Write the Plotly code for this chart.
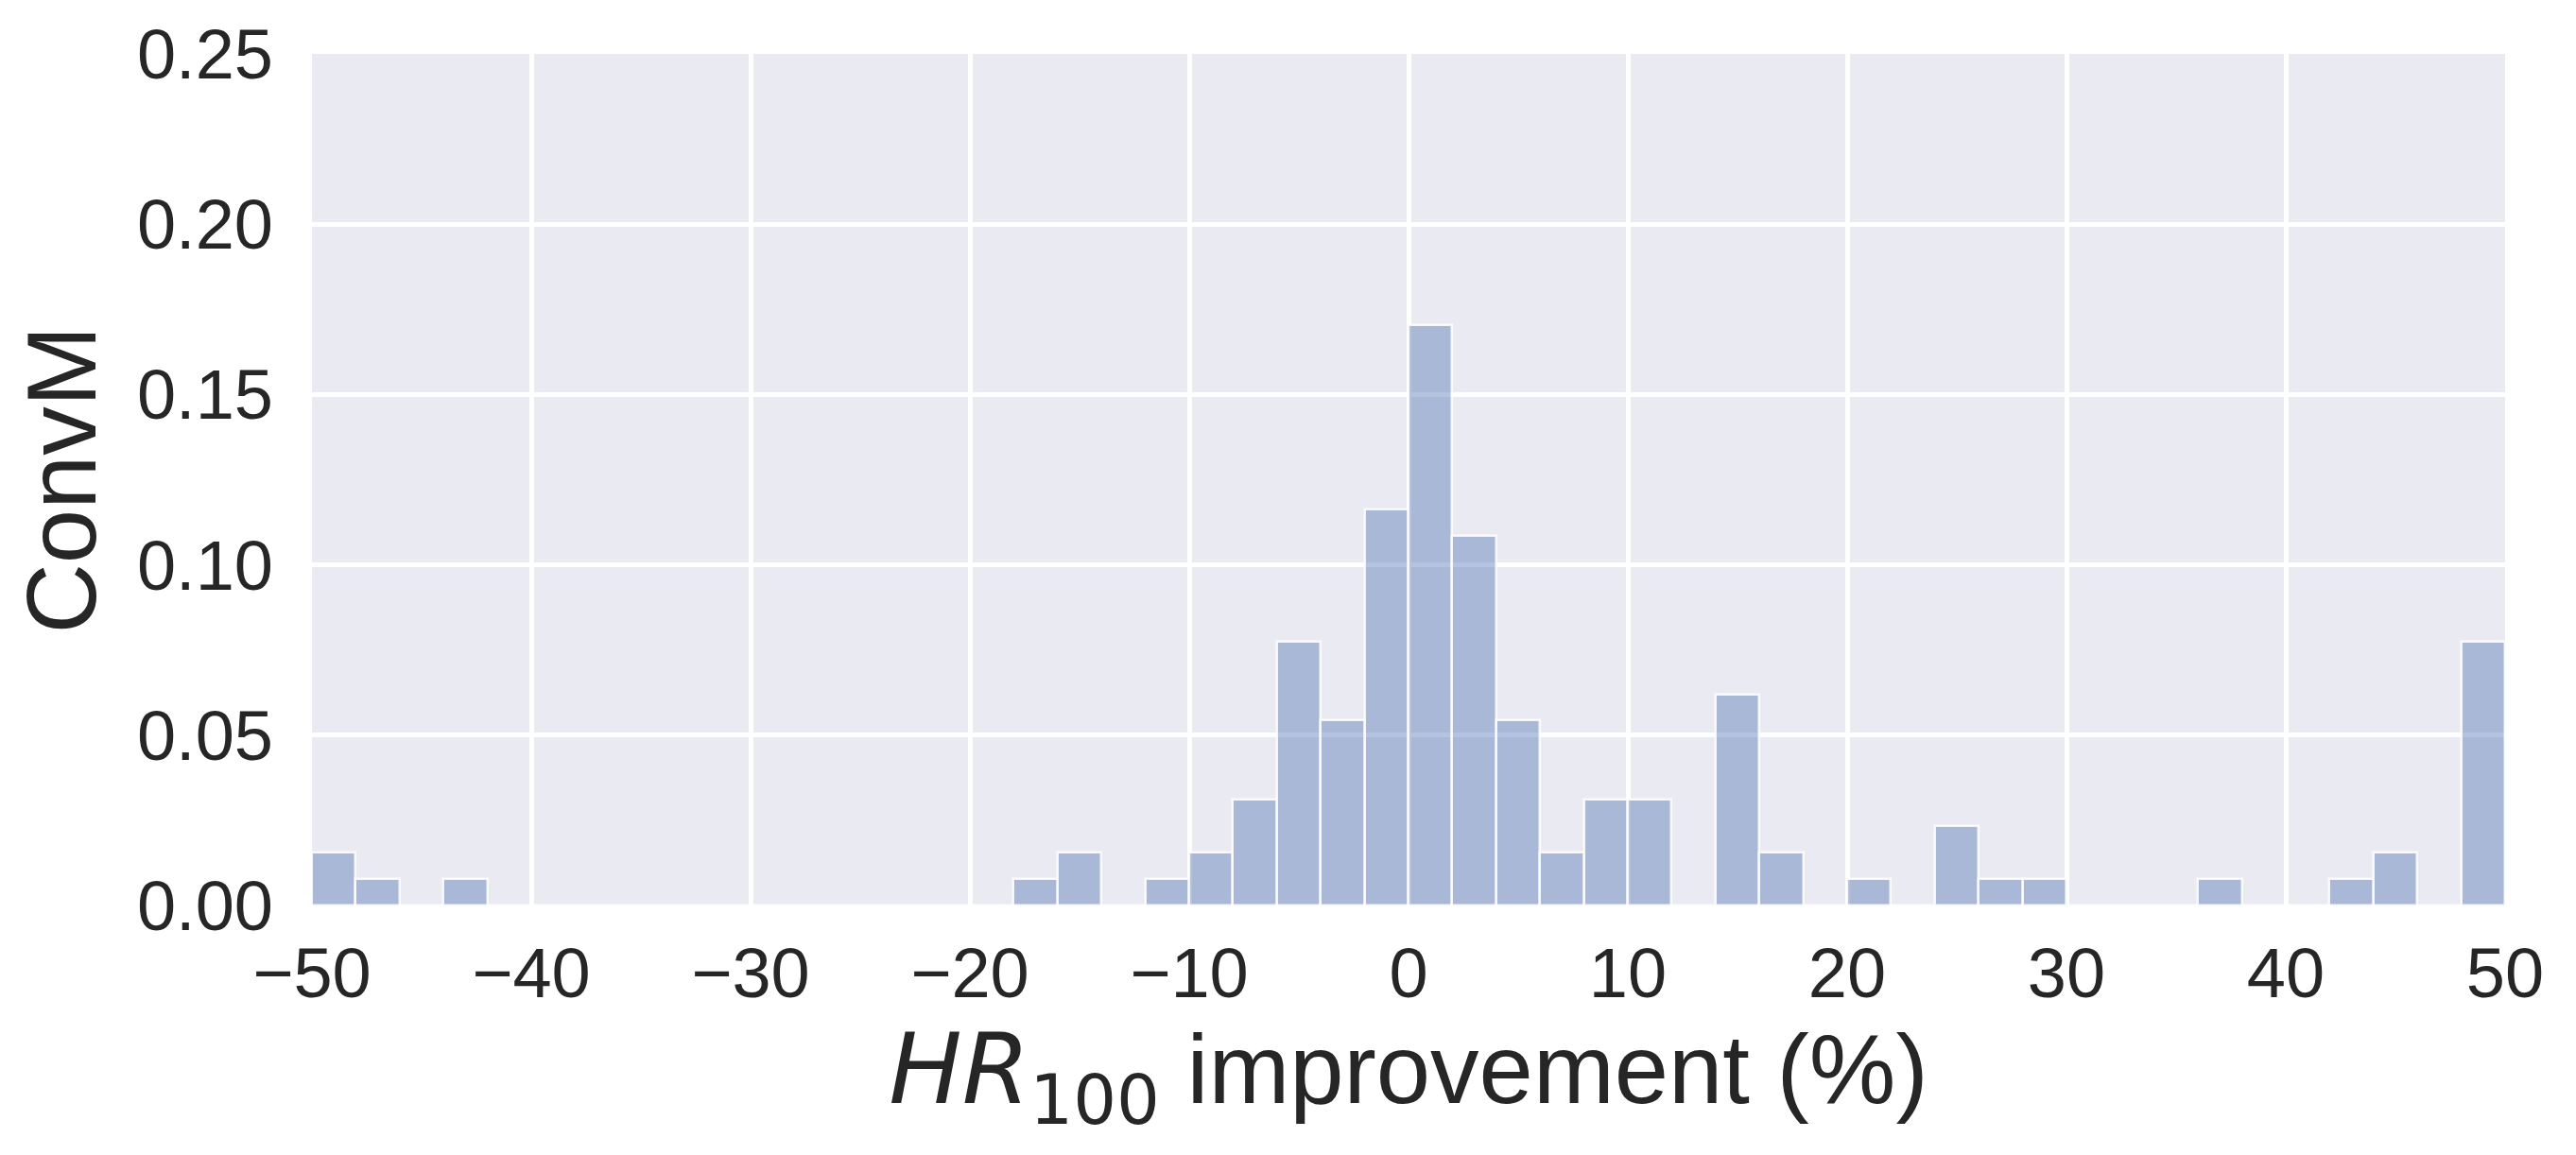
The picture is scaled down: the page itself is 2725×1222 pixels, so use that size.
import plotly.graph_objects as go

# Histogram bins (left edges, width 2) from -50 to 50
bin_width = 2
bin_starts = list(range(-50, 50, 2))
probabilities = [
    0.0155, 0.0078, 0.0, 0.0078, 0.0, 0.0, 0.0, 0.0, 0.0, 0.0,   # -50 .. -32
    0.0, 0.0, 0.0, 0.0, 0.0, 0.0, 0.0078, 0.0155, 0.0, 0.0078,   # -30 .. -12
    0.0155, 0.031, 0.0775, 0.0543, 0.1163, 0.1705, 0.1085, 0.0543, 0.0155, 0.031,  # -10 .. 8
    0.031, 0.0, 0.062, 0.0155, 0.0, 0.0078, 0.0, 0.0233, 0.0078, 0.0078,  # 10 .. 28
    0.0, 0.0, 0.0, 0.0078, 0.0, 0.0, 0.0078, 0.0155, 0.0, 0.0775,  # 30 .. 48
]
x_ticks = [-50, -40, -30, -20, -10, 0, 10, 20, 30, 40, 50]
x_tick_labels = ["\u221250", "\u221240", "\u221230", "\u221220", "\u221210", "0", "10", "20", "30", "40", "50"]
y_ticks = [0.0, 0.05, 0.10, 0.15, 0.20, 0.25]
y_tick_labels = ["0.00", "0.05", "0.10", "0.15", "0.20", "0.25"]

centers = [s + bin_width / 2 for s in bin_starts]

FONT = "Liberation Sans, Arial, Helvetica, sans-serif"
MATH = "DejaVu Sans"
TEXT = "#262626"

fig = go.Figure(
    go.Bar(
        x=centers,
        y=probabilities,
        width=bin_width,
        marker=dict(
            color="rgba(76,114,176,0.42)",
            line=dict(color="rgba(255,255,255,0.85)", width=2.5),
        ),
        hoverinfo="x+y",
    )
)

fig.update_layout(
    width=2725,
    height=1222,
    margin=dict(l=322, r=83, t=49, b=272),
    paper_bgcolor="white",
    plot_bgcolor="#EAEAF2",
    showlegend=False,
    bargap=0,
    font=dict(family=FONT, color=TEXT),
)

fig.update_xaxes(
    range=[-50, 50],
    tickmode="array",
    tickvals=x_ticks,
    ticktext=x_tick_labels,
    tickfont=dict(size=74, family=FONT, color=TEXT),
    showgrid=True,
    gridcolor="white",
    gridwidth=4.5,
    zeroline=False,
    showline=False,
    ticks="",
    ticklabelstandoff=22,
    title=dict(
        text=(f"<span style='font-family:{MATH}; font-style:italic'>HR</span>"
              f"<sub><span style='font-family:{MATH}'>100</span></sub> improvement (%)"),
        font=dict(size=103, family=FONT, color=TEXT),
        standoff=22,
    ),
    automargin=False,
)

fig.update_yaxes(
    range=[0, 0.25],
    tickmode="array",
    tickvals=y_ticks,
    ticktext=y_tick_labels,
    tickfont=dict(size=74, family=FONT, color=TEXT),
    showgrid=True,
    gridcolor="white",
    gridwidth=4.5,
    zeroline=False,
    showline=False,
    ticks="",
    ticklabelstandoff=40,
    title=dict(
        text="ConvM",
        font=dict(size=103, family=FONT, color=TEXT),
        standoff=20,
    ),
    automargin=False,
)

fig.write_html("out.html")
